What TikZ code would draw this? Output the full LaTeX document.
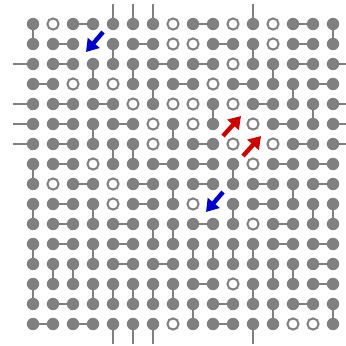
\documentclass[tikz,border=0pt]{standalone}
\usetikzlibrary{arrows.meta}
\definecolor{hopblue}{RGB}{0,0,205}
\definecolor{hopred}{RGB}{205,0,0}

\begin{document}
\begin{tikzpicture}[
        bond/.style  ={gray, line width=0.14cm},
        site-f/.style={circle, fill=gray, inner sep=0pt, minimum size=0.62cm},
        site-o/.style={circle, draw=gray, fill=white, line width=0.1cm,
                       inner sep=0pt, minimum size=0.56cm},
        site-x/.style={coordinate},
        hop/.style   ={-{Triangle[length=0.6cm,width=0.75cm]}, line width=0.22cm},]

    \useasboundingbox (-0.65,-17.05) rectangle (16.65,0.2);

    % f = filled, o = empty site, x = site under a hop arrow
    \foreach \row [count=\r] in {
        {f,o,f,f,f,f,f,o,f,f,o,f,o,f,f,f},
        {f,f,f,x,f,f,f,o,o,f,f,f,o,f,f,f},
        {f,f,f,f,f,f,f,f,f,f,o,f,f,f,f,f},
        {f,f,o,f,o,f,f,f,f,o,f,f,f,f,f,f},
        {f,f,f,f,f,o,f,o,o,f,o,f,f,f,f,f},
        {f,f,f,f,f,f,o,f,o,f,x,o,f,f,f,f},
        {f,f,f,f,f,f,o,f,f,f,o,x,o,f,f,f},
        {f,f,f,o,f,f,f,f,f,f,f,o,f,f,f,f},
        {f,o,f,f,o,f,f,f,f,f,f,f,f,f,f,f},
        {f,f,f,f,o,f,f,f,o,x,f,f,f,f,f,f},
        {f,f,f,f,f,f,f,f,f,f,f,o,f,f,f,f},
        {f,f,f,f,f,f,f,f,f,f,f,f,f,f,f,f},
        {f,f,f,f,f,f,f,f,f,f,f,f,f,f,f,f},
        {f,f,f,f,f,f,f,f,f,f,o,f,f,f,f,f},
        {f,f,f,f,f,f,f,f,f,f,f,f,f,f,f,f},
        {f,f,f,f,f,f,f,o,f,f,f,f,f,o,o,f}}
        \foreach \t [count=\c] in \row
            \node[site-\t] (s-\c-\r) at (\c,-\r) {};

    % horizontal dimers
    \foreach \c/\r [evaluate=\c as \d using int(\c+1)] in {
        3/1, 9/1, 14/1, 2/2, 6/2, 10/2, 14/2, 2/3, 7/3, 9/3, 14/3,
        1/4, 8/4, 11/4, 15/4, 2/5, 4/5, 12/5, 2/6, 5/6, 13/6,
        2/7, 9/7, 14/7, 2/8, 7/8, 9/8, 13/8, 15/8,
        3/9, 6/9, 9/9, 12/9, 15/9, 2/10, 6/10, 12/10,
        2/11, 5/11, 9/11, 13/11, 2/12, 5/12, 13/12, 15/12,
        5/13, 7/13, 15/13, 9/14, 15/14, 2/15, 10/15, 14/15,
        1/16, 3/16, 10/16}
        \draw[bond] (s-\c-\r) -- (s-\d-\r);

    % vertical dimers
    \foreach \c/\r [evaluate=\r as \q using int(\r+1)] in {
        1/1, 16/1, 5/2, 12/2, 4/3, 6/3, 13/3, 7/4, 14/4,
        10/5, 15/5, 4/6, 8/6, 5/7, 6/7, 1/8, 11/8, 8/9, 14/9,
        1/10, 4/10, 11/10, 15/10, 16/10, 7/11, 8/11,
        1/12, 4/12, 9/12, 10/12, 11/12, 12/12,
        2/13, 3/13, 13/13, 14/13,
        1/14, 4/14, 5/14, 6/14, 7/14, 8/14, 12/14,
        9/15, 13/15, 16/15}
        \draw[bond] (s-\c-\r) -- (s-\c-\q);

    % dimers across the edges
    \foreach \c in {5,6,7,12} {
        \coordinate (top-\c) at (\c,0);
        \coordinate (bot-\c) at (\c,-17);
        \draw[bond] (s-\c-1) -- (top-\c);
        \draw[bond] (s-\c-16) -- (bot-\c);
    }
    \foreach \r in {3,5,6,7} {
        \coordinate (lft-\r) at (0,-\r);
        \coordinate (rgt-\r) at (17,-\r);
        \draw[bond] (s-1-\r) -- (lft-\r);
        \draw[bond] (s-16-\r) -- (rgt-\r);
    }

    \draw[hop, hopblue] ([shift={(0.5,0.6)}]s-4-2)
        -- ([shift={(-0.35,-0.4)}]s-4-2);
    \draw[hop, hopblue] ([shift={(0.5,0.6)}]s-10-10)
        -- ([shift={(-0.35,-0.4)}]s-10-10);
    \draw[hop, hopred] ([shift={(-0.5,-0.6)}]s-11-6)
        -- ([shift={(0.4,0.4)}]s-11-6);
    \draw[hop, hopred] ([shift={(-0.5,-0.6)}]s-12-7)
        -- ([shift={(0.4,0.4)}]s-12-7);
\end{tikzpicture}
\end{document}
